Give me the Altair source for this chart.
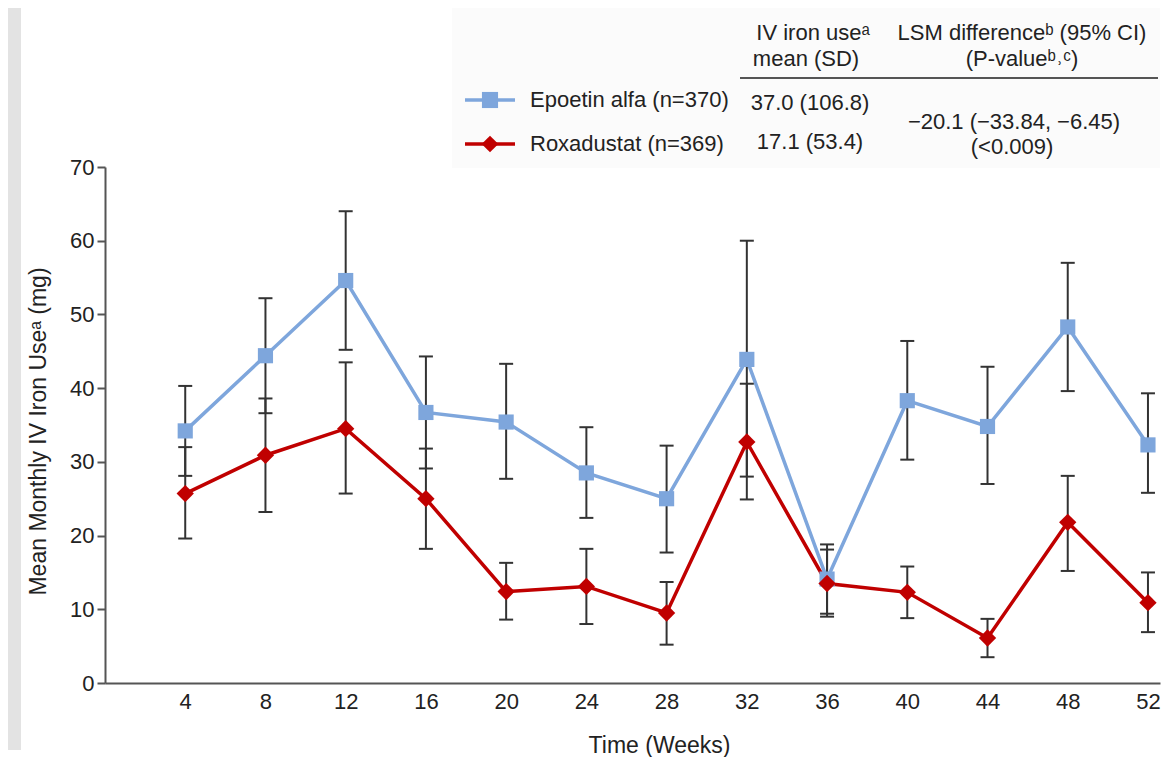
import altair as alt
import pandas as pd

# ---------------- data ----------------
weeks = [4, 8, 12, 16, 20, 24, 28, 32, 36, 40, 44, 48, 52]

epo_mean = [34.2, 44.4, 54.6, 36.7, 35.4, 28.5, 25.0, 43.9, 14.1, 38.3, 34.8, 48.3, 32.3]
epo_lo = [28.1, 36.6, 45.2, 29.1, 27.7, 22.4, 17.7, 28.0, 9.4, 30.3, 27.0, 39.6, 25.8]
epo_hi = [40.3, 52.2, 64.0, 44.3, 43.3, 34.7, 32.2, 60.0, 18.8, 46.4, 42.9, 57.0, 39.3]

rox_mean = [25.7, 30.9, 34.5, 25.0, 12.4, 13.1, 9.5, 32.7, 13.5, 12.3, 6.1, 21.8, 10.9]
rox_lo = [19.6, 23.2, 25.7, 18.2, 8.6, 8.0, 5.2, 24.9, 9.0, 8.8, 3.5, 15.2, 6.9]
rox_hi = [32.0, 38.6, 43.5, 31.8, 16.3, 18.2, 13.7, 40.6, 18.1, 15.8, 8.7, 28.1, 15.0]

series_names = ["Epoetin alfa", "Roxadustat"]
legend_labels = ["Epoetin alfa (n=370)", "Roxadustat (n=369)"]
iv_iron_mean_sd = ["37.0 (106.8)", "17.1 (53.4)"]
lsm_lines = ["\u221220.1 (\u221233.84, \u22126.45)", "(<0.009)"]
header_iv = ["IV iron use\u1d43", "mean (SD)"]
header_lsm = ["LSM difference\u1d47 (95% CI)", "(P-value\u1d47\u02d2\u1d9c)"]
y_ticks = [0, 10, 20, 30, 40, 50, 60, 70]
x_ticks = weeks

# ---------------- styles ----------------
FONT = "Liberation Sans"
BLUE = "#7EA6DC"
RED = "#C00000"
BAR = "#333333"
TXT = "#222222"
FS = 22

W, H = 1055, 516

rows = []
for name, m, lo, hi in [(series_names[0], epo_mean, epo_lo, epo_hi),
                        (series_names[1], rox_mean, rox_lo, rox_hi)]:
    for w, a, b, c in zip(weeks, m, lo, hi):
        rows.append({"series": name, "week": w, "mean": a, "lo": b, "hi": c})
df = pd.DataFrame(rows)

xs = alt.Scale(domain=[0, 52.6], nice=False, zero=False)
ys = alt.Scale(domain=[0, 70], nice=False)
color = alt.Color("series:N", scale=alt.Scale(domain=series_names, range=[BLUE, RED]), legend=None)

X = alt.X("week:Q", scale=xs, axis=alt.Axis(
    values=x_ticks, title="Time (Weeks)", ticks=False, grid=False,
    labelFontSize=FS, titleFontSize=23, titleFontWeight="normal",
    labelColor=TXT, titleColor=TXT, domainColor="#555555", domainWidth=2,
    labelPadding=8, titleX=554, titleY=62, titleAlign="center", titleBaseline="middle",
    labelFont=FONT, titleFont=FONT))
Y = alt.Y("mean:Q", scale=ys, axis=alt.Axis(
    values=y_ticks, title="Mean Monthly IV Iron Use\u1d43 (mg)", grid=False,
    tickSize=8, tickWidth=2, tickColor="#555555", domainColor="#555555", domainWidth=2,
    labelPadding=3, labelFontSize=FS, titleFontSize=23, titleFontWeight="normal",
    labelColor=TXT, titleColor=TXT, titleX=-67, titleY=264, titleAngle=270,
    titleAlign="center", titleBaseline="middle", labelFont=FONT, titleFont=FONT))

base = alt.Chart(df)

lines = base.mark_line(strokeWidth=3.5).encode(x=X, y=Y, color=color, detail="series:N")
bars = base.mark_rule(color=BAR, strokeWidth=2).encode(x="week:Q", y="lo:Q", y2="hi:Q")
caps = base.transform_fold(["lo", "hi"], as_=["k", "v"]).mark_tick(
    orient="horizontal", size=14, thickness=2, color=BAR, opacity=1
).encode(x="week:Q", y="v:Q")
points = base.mark_point(filled=True, opacity=1).encode(
    x="week:Q", y="mean:Q", color=color,
    shape=alt.Shape("series:N", scale=alt.Scale(domain=series_names, range=["square", "diamond"]), legend=None),
    size=alt.Size("series:N", scale=alt.Scale(domain=series_names, range=[230, 300]), legend=None),
)

one = pd.DataFrame({"k": [0]})
ann = []
# gray strip at the left edge
ann.append(alt.Chart(one).mark_rect(color="#e3e3e3").encode(
    x=alt.value(-97), x2=alt.value(-84), y=alt.value(-159), y2=alt.value(583)))
# legend/table box
ann.append(alt.Chart(one).mark_rect(color="#fbfbfb").encode(
    x=alt.value(347), x2=alt.value(W), y=alt.value(-159), y2=alt.value(1)))
# header rule
ann.append(alt.Chart(one).mark_rule(color="#555555", strokeWidth=2).encode(
    x=alt.value(635), x2=alt.value(1053), y=alt.value(-89)))

def txt(s, x, y, align="center"):
    return alt.Chart(one).mark_text(align=align, baseline="middle", fontSize=FS, font=FONT, color=TXT).encode(
        x=alt.value(x), y=alt.value(y), text=alt.value(s))

ann.append(txt(header_iv[0], 708, -134))
ann.append(txt(header_iv[1], 701, -108))
ann.append(txt(header_lsm[0], 917, -134))
ann.append(txt(header_lsm[1], 917, -108))

row_y = [-67, -23]
marker_shapes = ["square", "diamond"]
marker_sizes = [260, 280]
cols = [BLUE, RED]
for i in range(2):
    ann.append(alt.Chart(one).mark_rule(color=cols[i], strokeWidth=3.5).encode(
        x=alt.value(360), x2=alt.value(410), y=alt.value(row_y[i])))
    ann.append(alt.Chart(one).mark_point(filled=True, opacity=1, color=cols[i], shape=marker_shapes[i],
                                         size=marker_sizes[i]).encode(
        x=alt.value(385), y=alt.value(row_y[i])))
    ann.append(txt(legend_labels[i], 425, row_y[i], align="left"))
    ann.append(txt(iv_iron_mean_sd[i], 705, row_y[i] + 3 if i == 0 else row_y[i] - 2))

ann.append(txt(lsm_lines[0], 909, -45))
ann.append(txt(lsm_lines[1], 907, -20))

chart = alt.layer(*ann, lines, bars, caps, points).properties(
    width=W, height=H, padding=0
).configure_view(stroke=None)

chart.save("out.html", embed_options={"renderer": "svg", "actions": False})
